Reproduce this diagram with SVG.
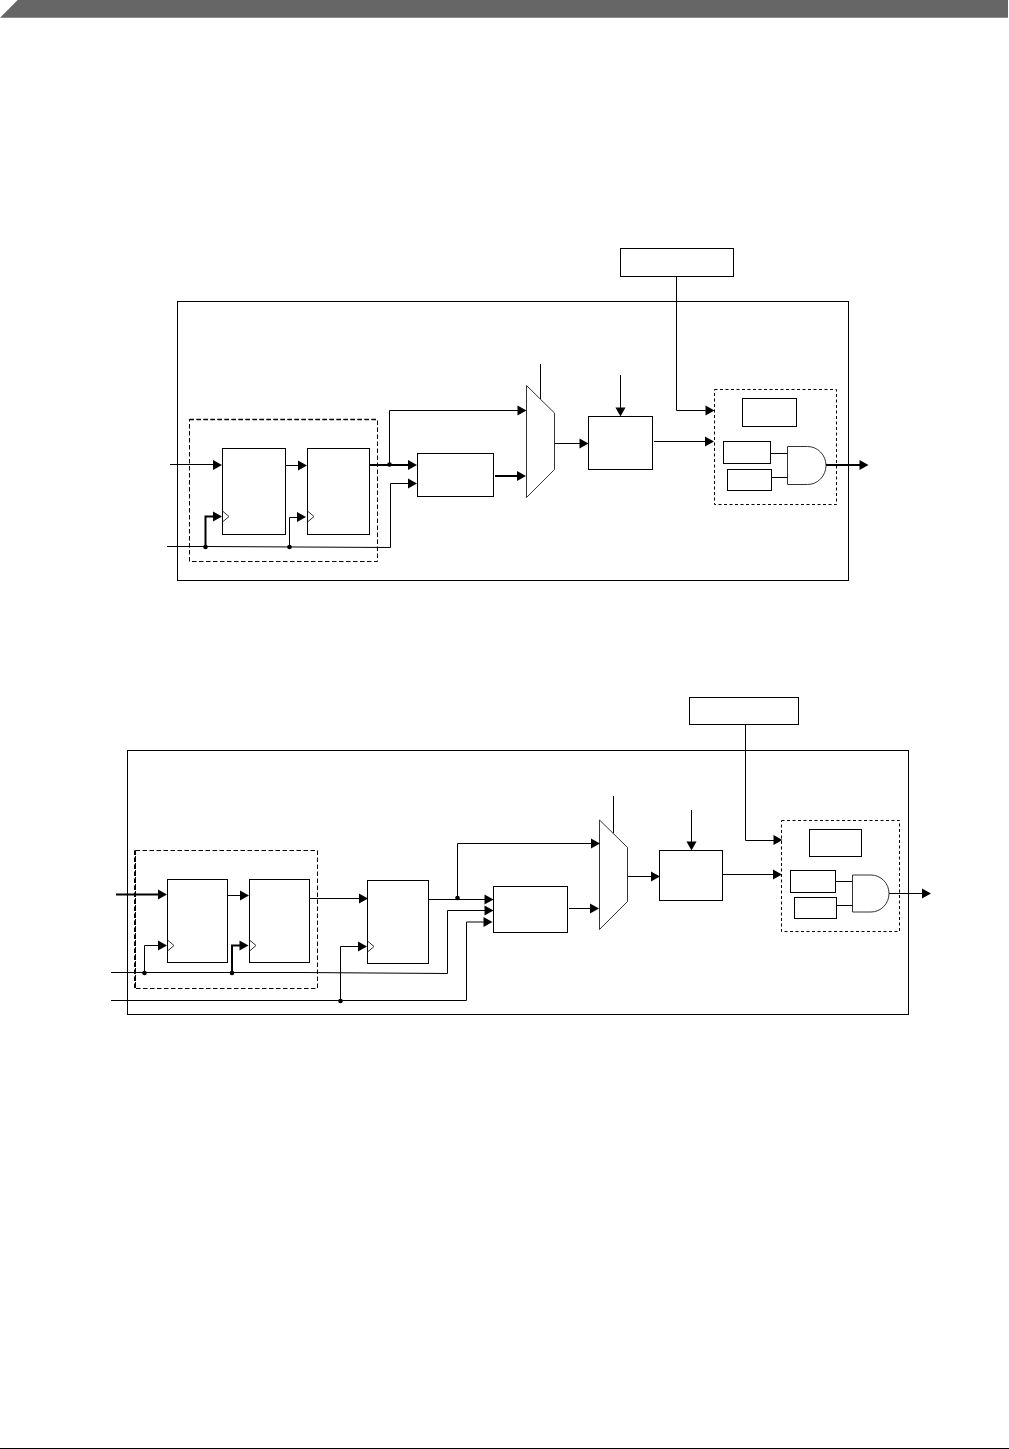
<svg xmlns="http://www.w3.org/2000/svg" width="1009" height="1449" viewBox="0 0 1009 1449">
<style>
.b{fill:#fff;stroke:#000;stroke-width:1}
.n{fill:none;stroke:#000;stroke-width:1}
.t{fill:none;stroke:#000;stroke-width:2}
.d{fill:none;stroke:#000;stroke-width:1;stroke-dasharray:3 2.500}
.e{fill:none;stroke:#000;stroke-width:1;stroke-dasharray:4.500 2.500}
.f{fill:none;stroke:#000;stroke-width:1.500;stroke-dasharray:4.500 2.500}
.g{fill:none;stroke:#000;stroke-width:2;stroke-dasharray:4.500 2.500}
.m{fill:#fff;stroke:#333;stroke-width:1}
.c{fill:none;stroke:#333;stroke-width:1}
.a{fill:#000}
</style>
<defs>
<path id="ar" d="M-9,-5L0,0L-9,5Z" class="a"/>
<path id="ad" d="M-5,-9L5,-9L0,0Z" class="a"/>
<circle id="dot" r="2.300" class="a"/>
</defs>
<g id="page">
<path d="M0,17.700L17.700,0H1008V17.700Z" fill="#666"/>
<path d="M0,1448.500H1009" stroke="#000" stroke-width="1" fill="none"/>
</g>

<g id="top-frame"><rect class="b" x="177.500" y="301.500" width="671" height="279"/></g>
<g id="top-dashed-left"><rect class="e" x="189.500" y="419.500" width="188" height="142"/><path class="f" d="M189.500,419.500H377.500"/></g>
<g id="top-ff1"><rect class="b" x="222.500" y="448.500" width="63" height="86"/><path class="c" d="M222.500,511L229,516.500L222.500,522"/></g>
<g id="top-ff2"><rect class="b" x="307.500" y="448.500" width="62" height="86"/><path class="c" d="M307.500,511L314,516.500L307.500,522"/></g>
<g id="top-box"><rect class="b" x="417.500" y="453.500" width="76" height="43"/></g>
<g id="top-mux"><path class="m" d="M526.500,385.500L554.500,413V469.500L526.500,497.500Z"/></g>
<g id="top-proc"><rect class="b" x="588.500" y="416.500" width="64" height="53"/></g>
<g id="top-ext"><rect class="b" x="620.500" y="248.500" width="113" height="28"/></g>
<g id="top-dashed-right"><rect class="d" x="714.500" y="389.500" width="122" height="115"/></g>
<g id="top-reg"><rect class="b" x="742.500" y="398.500" width="54" height="28"/></g>
<g id="top-a"><rect class="b" x="723.500" y="441.500" width="47" height="22"/></g>
<g id="top-b"><rect class="b" x="727.500" y="469.500" width="44" height="21"/></g>
<g id="top-and"><path class="m" d="M787.500,446.500H807.500A18.500,19 0 0 1 807.500,484.500H787.500Z"/></g>

<g id="bot-frame"><rect class="b" x="127.500" y="750.500" width="781" height="264"/></g>
<g id="bot-dashed-left"><rect class="e" x="135.500" y="850.500" width="182" height="138"/><path class="g" d="M135,850.500V988.500"/></g>
<g id="bot-ff1"><rect class="b" x="167.500" y="879.500" width="60" height="83"/><path class="c" d="M167.500,940L174,945.500L167.500,951"/></g>
<g id="bot-ff2"><rect class="b" x="249.500" y="879.500" width="60" height="83"/><path class="c" d="M249.500,940L256,945.500L249.500,951"/></g>
<g id="bot-ff3"><rect class="b" x="367.500" y="880.500" width="61" height="83"/><path class="c" d="M367.500,941L374,946.500L367.500,952"/></g>
<g id="bot-box"><rect class="b" x="493.500" y="886.500" width="74" height="46"/></g>
<g id="bot-mux"><path class="m" d="M599.500,820L627.500,847.500V901.500L599.500,929.500Z"/></g>
<g id="bot-proc"><rect class="b" x="659.500" y="850.500" width="63" height="50"/></g>
<g id="bot-ext"><rect class="b" x="689.500" y="697.500" width="109" height="27"/></g>
<g id="bot-dashed-right"><rect class="d" x="781.500" y="820.500" width="118" height="111"/></g>
<g id="bot-reg"><rect class="b" x="809.500" y="829.500" width="52" height="27"/></g>
<g id="bot-a"><rect class="b" x="790.500" y="870.500" width="45" height="22"/></g>
<g id="bot-b"><rect class="b" x="794.500" y="897.500" width="42" height="21"/></g>
<g id="bot-and"><path class="m" d="M852.500,875H871A18,18.500 0 0 1 871,912H852.500Z"/></g>

<g id="connectors">
<path class="n" d="M170,464.500H214"/><use href="#ar" x="222" y="465"/>
<path class="n" d="M285.500,465.500H299"/><use href="#ar" x="307" y="465.500"/>
<path class="t" d="M205.500,547V516.500H214"/><use href="#ar" x="222" y="516.500"/>
<path class="n" d="M289.500,547V517.500H298"/><use href="#ar" x="306" y="517"/>
<path class="n" d="M167,546.500H205L390.500,547.500V483.500H409"/><use href="#ar" x="417" y="483.500"/>
<use href="#dot" x="205.500" y="547"/><use href="#dot" x="289.500" y="547"/>
<path class="t" d="M370,465H409"/><use href="#ar" x="417" y="465"/>
<path class="n" d="M389.500,464V410.500H518"/><use href="#ar" x="526.500" y="410.500"/><use href="#dot" x="389.500" y="464.500"/>
<path class="t" d="M495,476H518"/><use href="#ar" x="526" y="476"/>
<path class="n" d="M540.500,364V399"/>
<path class="n" d="M554.500,443.500H580"/><use href="#ar" x="588.500" y="443.500"/>
<path class="n" d="M620.500,375V408"/><use href="#ad" x="620.500" y="416.500"/>
<path class="n" d="M654,441.500H705"/><use href="#ar" x="714" y="441.500"/>
<path class="n" d="M676.500,276.500V410.500H706"/><use href="#ar" x="714.500" y="410.500"/>
<path class="n" d="M770.500,453.500H787.500M771.500,477.500H787.500"/>
<path class="t" d="M826,465H860"/><use href="#ar" x="868.500" y="465"/>

<path class="t" d="M116,894.500H159"/><use href="#ar" x="167" y="894.500"/>
<path class="n" d="M227.500,895.500H241"/><use href="#ar" x="249" y="895.500"/>
<path class="n" d="M309.500,898.500H359"/><use href="#ar" x="368" y="898.500"/>
<path class="n" d="M428.500,899.500H485"/><use href="#ar" x="493.500" y="899.500"/>
<path class="n" d="M457.500,898V843.500H592"/><use href="#ar" x="600" y="843.500"/><use href="#dot" x="457.500" y="898"/>
<path class="n" d="M144.500,972.500V945.500H159"/><use href="#ar" x="167" y="945.500"/>
<path class="t" d="M232,973V945.500H240"/><use href="#ar" x="248.500" y="945.500"/>
<path class="n" d="M340.500,1001V946.500H358"/><use href="#ar" x="367" y="946.500"/>
<path class="n" d="M111,972.500H300L447.500,973.500V910.500H485"/><use href="#ar" x="493.500" y="910.500"/>
<path class="n" d="M111,1000.500H466.500V922H484"/><use href="#ar" x="492.500" y="922"/>
<use href="#dot" x="144.500" y="973"/><use href="#dot" x="232" y="973"/><use href="#dot" x="340.500" y="1001"/>
<path class="n" d="M569,908.500H590"/><use href="#ar" x="599" y="908.500"/>
<path class="n" d="M613.500,796V833"/>
<path class="n" d="M627.500,876.500H651"/><use href="#ar" x="660" y="876.500"/>
<path class="n" d="M691.500,810V842"/><use href="#ad" x="691.500" y="850.500"/>
<path class="n" d="M722.500,874.500H773"/><use href="#ar" x="782" y="874.500"/>
<path class="n" d="M745.500,724.500V840.500H774"/><use href="#ar" x="782.500" y="840"/>
<path class="n" d="M835.500,881.500H852.500M836.500,905.500H852.500"/>
<path class="n" d="M889,893.500H922"/><use href="#ar" x="931" y="893.500"/>
</g>
</svg>
